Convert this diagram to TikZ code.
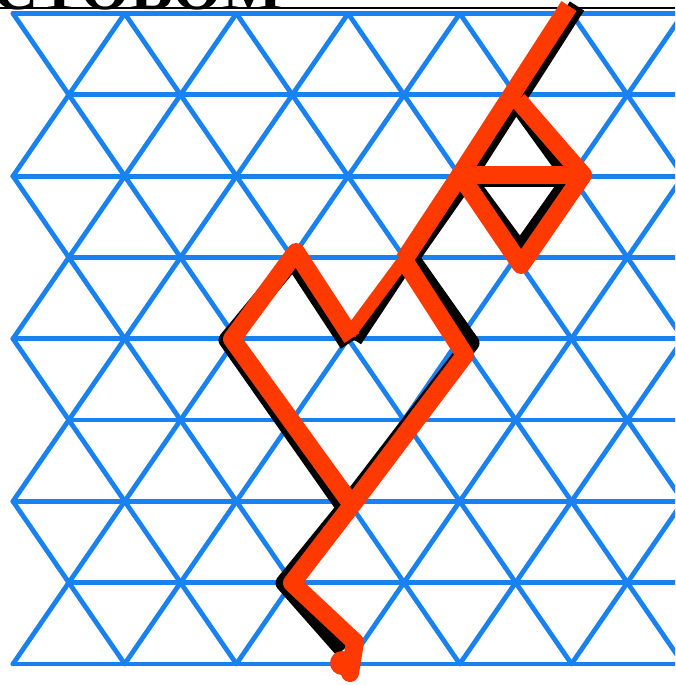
\documentclass[tikz,border=0pt]{standalone}
\usepackage{fontspec}
\newfontfamily\cyrserif{Liberation Serif}
\definecolor{gridblue}{RGB}{25,130,240}
\definecolor{penred}{RGB}{255,58,0}
\begin{document}
\begin{tikzpicture}[x=1pt,y=-1pt,
  gridline/.style={draw=gridblue,line width=4.8pt,line cap=round,line join=round},
  redpen/.style={draw=penred,line width=18pt,line join=round},
  redthin/.style={draw=penred,line width=13pt},
  shadowpen/.style={draw=black,line width=17pt,line join=round},
  shadowthin/.style={draw=black,line width=12pt},
]
\useasboundingbox (0,0) rectangle (675,685);
\clip (0,0) rectangle (675,685);
\fill[white] (0,0) rectangle (675,685);
% cut-off heading
\node[anchor=base west,inner sep=0,font=\cyrserif\bfseries\fontsize{64}{64}\selectfont] (head) at (-8,10) {СТОВОМ};
\draw[line width=1.2pt] (0,8) -- (675,8);
% triangular grid
\def\U{55.85}\def\V{81.3}
\foreach \j in {0,...,8}{
  \pgfmathsetmacro\s{mod(\j,2)}
  \draw[gridline] ({13+\U*\s},{13.5+\V*\j}) -- (690,{13.5+\V*\j});
}
\foreach \a in {-6,-4,...,12}{
  \pgfmathsetmacro\sa{max(\a,0)}
  \pgfmathsetmacro\sj{max(-\a,0)}
  \draw[gridline] ({13+\U*\sa},{13.5+\V*\sj}) -- ({13+\U*(\a+8)},{13.5+\V*8});
}
\foreach \a in {2,4,...,22}{
  \pgfmathsetmacro\ej{min(\a,8)}
  \pgfmathsetmacro\ea{\a-\ej}
  \draw[gridline] ({13+\U*\a},13.5) -- ({13+\U*\ea},{13.5+\V*\ej});
}
% shadow strokes
\draw[shadowpen] (577,6) -- (467,178) -- (411,258);
\draw[shadowthin] (411,258) -- (356,341);
\draw[shadowpen] (348,344) -- (293,260) -- (227,340) -- (345,508) -- (284,583) -- (343,650);
\draw[shadowpen] (411,258) -- (471,343) -- (343,510);
\draw[shadowpen] (467,178) -- (572,178);
\draw[shadowpen] (516,102) -- (571,178) -- (520,250) -- (467,178);
% red strokes
\draw[redpen] (569,6) -- (460,175) -- (404,260);
\draw[redthin] (404,260) -- (350,333);
\draw[redpen] (352,338) -- (296,252) -- (232,339) -- (352,505) -- (292,583) -- (355,642);
\draw[redpen,line cap=round] (355,642) -- (350,673);
\draw[redpen] (404,260) -- (465,355) -- (352,505);
\draw[redpen] (460,175) -- (583,175);
\draw[redpen] (518,100) -- (583,175) -- (521,265) -- (460,175);
\fill[penred] (342,663) circle (12);
\end{tikzpicture}
\end{document}
